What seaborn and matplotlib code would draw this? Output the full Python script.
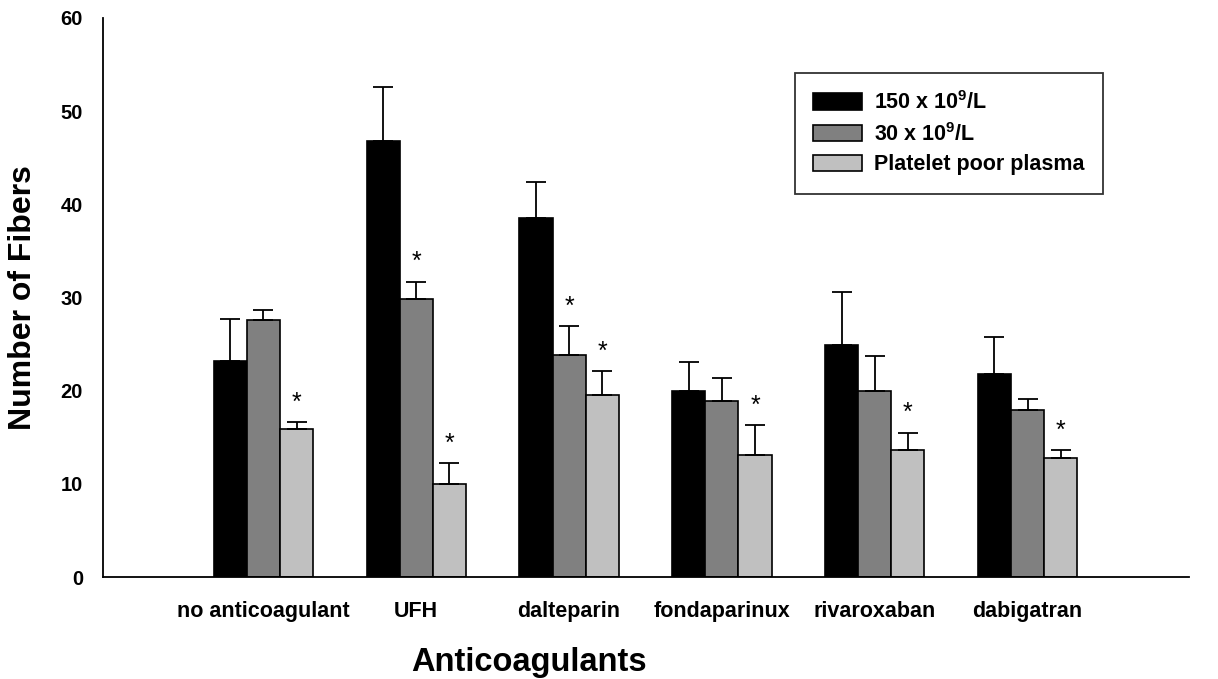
import matplotlib
matplotlib.use("Agg")
import matplotlib.pyplot as plt
import seaborn as sns
import pandas as pd
import numpy as np

categories = ["no anticoagulant", "UFH", "dalteparin", "fondaparinux", "rivaroxaban", "dabigatran"]
series = ["150 x 10$^\\mathbf{9}$/L", "30 x 10$^\\mathbf{9}$/L", "Platelet poor plasma"]
mean_150 = [23.2, 46.8, 38.5, 20.0, 24.9, 21.8]
err_150 = [4.5, 5.8, 3.9, 3.1, 5.7, 4.0]
mean_30 = [27.6, 29.9, 23.8, 18.9, 20.0, 17.9]
err_30 = [1.1, 1.8, 3.1, 2.5, 3.7, 1.2]
mean_ppp = [15.9, 10.0, 19.5, 13.1, 13.6, 12.8]
err_ppp = [0.7, 2.2, 2.6, 3.2, 1.9, 0.8]
star_30 = [False, True, True, False, False, False]
star_ppp = [True, True, True, True, True, True]
colors = ["#000000", "#808080", "#c0c0c0"]

sns.set_style("white")
plt.rcParams["font.family"] = ["Liberation Sans", "DejaVu Sans"]
plt.rcParams["mathtext.fontset"] = "custom"
plt.rcParams["mathtext.bf"] = "Liberation Sans:bold"
plt.rcParams["mathtext.rm"] = "Liberation Sans:bold"
for k in ["text.color", "axes.labelcolor", "xtick.color", "ytick.color"]:
    plt.rcParams[k] = "black"

rows = []
means = [mean_150, mean_30, mean_ppp]
errs = [err_150, err_30, err_ppp]
for s, m in zip(series, means):
    for c, v in zip(categories, m):
        rows.append({"cat": c, "series": s, "val": v})
df = pd.DataFrame(rows)

fig = plt.figure(figsize=(12.18, 6.79), dpi=100)
ax = fig.add_axes([0.0846, 0.150, 0.892, 0.8235])
sns.barplot(data=df, x="cat", y="val", hue="series", order=categories, hue_order=series,
            palette=colors, width=0.65, errorbar=None, edgecolor="black", linewidth=1.2,
            saturation=1, ax=ax)

stars = [[False] * 6, star_30, star_ppp]
bar_containers = list(ax.containers)
for i, cont in enumerate(bar_containers):
    xs = [p.get_x() + p.get_width() / 2 for p in cont.patches]
    ys = [p.get_height() for p in cont.patches]
    ax.errorbar(xs, ys, yerr=[np.zeros(len(ys)), errs[i]], fmt="none", ecolor="black",
                elinewidth=1.3, capsize=7, capthick=1.3, zorder=1)
    for x, y, e, st in zip(xs, ys, errs[i], stars[i]):
        if st:
            ax.text(x, y + e + 0.8, "*", ha="center", va="bottom", fontsize=18,
                    fontweight="normal", color="black")

ax.set_ylim(0, 60)
ax.set_xlim(-1.05, 6.06)
ax.set_yticks(range(0, 61, 10))
for sp in ["top", "right"]:
    ax.spines[sp].set_visible(False)
for sp in ["left", "bottom"]:
    ax.spines[sp].set_color("black")
    ax.spines[sp].set_linewidth(1.3)
ax.tick_params(axis="both", which="both", direction="out", length=6, width=1.2,
               color="black", pad=5)
ax.tick_params(axis="y", labelsize=14.5, pad=8.5)
ax.tick_params(axis="x", labelsize=15.5, pad=11)
for lbl in ax.get_xticklabels() + ax.get_yticklabels():
    lbl.set_fontweight("bold")
ax.set_xlabel("Anticoagulants", fontsize=23.5, fontweight="bold")
ax.xaxis.set_label_coords(0.392, -0.125)
ax.set_ylabel("Number of Fibers", fontsize=23, fontweight="bold")
ax.yaxis.set_label_coords(-0.060, 0.5)

leg = ax.legend(loc="upper left", bbox_to_anchor=(0.6366, 0.9016), frameon=True, fancybox=False,
                edgecolor="black", fontsize=15.5, handlelength=2.3, handleheight=0.8,
                borderpad=0.85, labelspacing=0.4, handletextpad=0.55, borderaxespad=0)
leg.get_frame().set_linewidth(1.3)
for t in leg.get_texts():
    t.set_fontweight("bold")

fig.savefig("out.png", dpi=100)
